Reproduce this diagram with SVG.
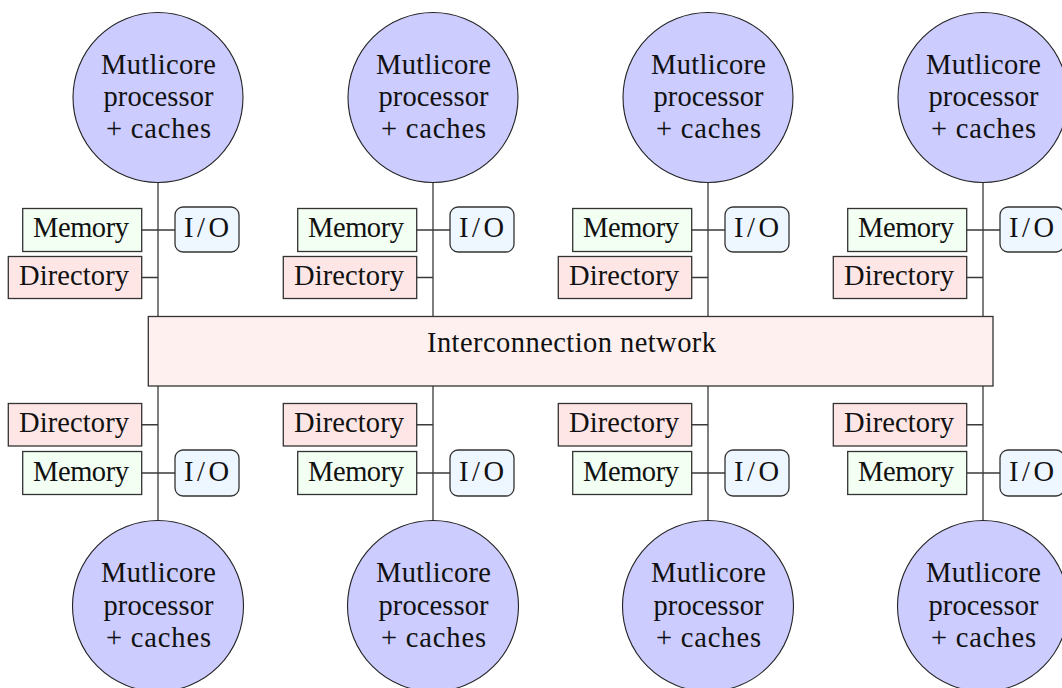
<svg xmlns="http://www.w3.org/2000/svg" width="1062" height="688" viewBox="0 0 1062 688">
<style>
text{font-family:"Liberation Serif","Times New Roman",serif;font-size:28.5px;fill:#111;text-anchor:middle}
.cpu{fill:#ccccff;stroke:#222;stroke-width:1.1}
.mem{fill:#f2fff2;stroke:#333;stroke-width:1.3}
.dir{fill:#ffe6e6;stroke:#333;stroke-width:1.3}
.io{fill:#eef6ff;stroke:#333;stroke-width:1.3}
.net{fill:#fff0f0;stroke:#333;stroke-width:1.3}
.ln{stroke:#3a3a3a;stroke-width:1.3;fill:none}
</style>
<rect width="1062" height="688" fill="#fff"/>
<g id="connectors" class="ln">
<path d="M158,182.5V316.5M141.7,230H175M141.7,277.5H158M158,386V520.5M141.7,424.75H158M141.7,473H175"/>
<path d="M433,182.5V316.5M416.7,230H450M416.7,277.5H433M433,386V520.5M416.7,424.75H433M416.7,473H450"/>
<path d="M708,182.5V316.5M691.7,230H725M691.7,277.5H708M708,386V520.5M691.7,424.75H708M691.7,473H725"/>
<path d="M983,182.5V316.5M966.7,230H1000M966.7,277.5H983M983,386V520.5M966.7,424.75H983M966.7,473H1000"/>
</g>
<g id="network"><rect class="net" x="148.3" y="316.5" width="844.7" height="69.5"/><text x="571.5" y="352" textLength="289">Interconnection network</text></g>

<g id="cpu-t1"><circle class="cpu" cx="158" cy="97.5" r="85"/><text x="158.5" y="74" textLength="115">Mutlicore</text><text x="158.5" y="106" textLength="110">processor</text><text x="158.5" y="138" textLength="105">+ caches</text></g>
<g id="cpu-t2"><circle class="cpu" cx="433" cy="97.5" r="85"/><text x="433.5" y="74" textLength="115">Mutlicore</text><text x="433.5" y="106" textLength="110">processor</text><text x="433.5" y="138" textLength="105">+ caches</text></g>
<g id="cpu-t3"><circle class="cpu" cx="708" cy="97.5" r="85"/><text x="708.5" y="74" textLength="115">Mutlicore</text><text x="708.5" y="106" textLength="110">processor</text><text x="708.5" y="138" textLength="105">+ caches</text></g>
<g id="cpu-t4"><circle class="cpu" cx="983" cy="97.5" r="85"/><text x="983.5" y="74" textLength="115">Mutlicore</text><text x="983.5" y="106" textLength="110">processor</text><text x="983.5" y="138" textLength="105">+ caches</text></g>

<g id="cpu-b1"><circle class="cpu" cx="158" cy="606" r="85.5"/><text x="158.5" y="582" textLength="115">Mutlicore</text><text x="158.5" y="614.5" textLength="110">processor</text><text x="158.5" y="647" textLength="105">+ caches</text></g>
<g id="cpu-b2"><circle class="cpu" cx="433" cy="606" r="85.5"/><text x="433.5" y="582" textLength="115">Mutlicore</text><text x="433.5" y="614.5" textLength="110">processor</text><text x="433.5" y="647" textLength="105">+ caches</text></g>
<g id="cpu-b3"><circle class="cpu" cx="708" cy="606" r="85.5"/><text x="708.5" y="582" textLength="115">Mutlicore</text><text x="708.5" y="614.5" textLength="110">processor</text><text x="708.5" y="647" textLength="105">+ caches</text></g>
<g id="cpu-b4"><circle class="cpu" cx="983" cy="606" r="85.5"/><text x="983.5" y="582" textLength="115">Mutlicore</text><text x="983.5" y="614.5" textLength="110">processor</text><text x="983.5" y="647" textLength="105">+ caches</text></g>

<g id="mem-t1"><rect class="mem" x="22.7" y="208.5" width="119" height="43"/><text x="81" y="237" textLength="96">Memory</text></g>
<g id="mem-t2"><rect class="mem" x="297.7" y="208.5" width="119" height="43"/><text x="356" y="237" textLength="96">Memory</text></g>
<g id="mem-t3"><rect class="mem" x="572.7" y="208.5" width="119" height="43"/><text x="631" y="237" textLength="96">Memory</text></g>
<g id="mem-t4"><rect class="mem" x="847.7" y="208.5" width="119" height="43"/><text x="906" y="237" textLength="96">Memory</text></g>

<g id="dir-t1"><rect class="dir" x="8.3" y="256.5" width="133.4" height="42"/><text x="74" y="285" textLength="110">Directory</text></g>
<g id="dir-t2"><rect class="dir" x="283.3" y="256.5" width="133.4" height="42"/><text x="349" y="285" textLength="110">Directory</text></g>
<g id="dir-t3"><rect class="dir" x="558.3" y="256.5" width="133.4" height="42"/><text x="624" y="285" textLength="110">Directory</text></g>
<g id="dir-t4"><rect class="dir" x="833.3" y="256.5" width="133.4" height="42"/><text x="899" y="285" textLength="110">Directory</text></g>

<g id="io-t1"><rect class="io" x="175" y="207" width="64" height="45" rx="8"/><text x="206.5" y="237" textLength="45">I/O</text></g>
<g id="io-t2"><rect class="io" x="450" y="207" width="64" height="45" rx="8"/><text x="481.5" y="237" textLength="45">I/O</text></g>
<g id="io-t3"><rect class="io" x="725" y="207" width="64" height="45" rx="8"/><text x="756.5" y="237" textLength="45">I/O</text></g>
<g id="io-t4"><rect class="io" x="1000" y="207" width="64" height="45" rx="8"/><text x="1031.5" y="237" textLength="45">I/O</text></g>

<g id="dir-b1"><rect class="dir" x="8.3" y="403.5" width="133.4" height="42.5"/><text x="74" y="432" textLength="110">Directory</text></g>
<g id="dir-b2"><rect class="dir" x="283.3" y="403.5" width="133.4" height="42.5"/><text x="349" y="432" textLength="110">Directory</text></g>
<g id="dir-b3"><rect class="dir" x="558.3" y="403.5" width="133.4" height="42.5"/><text x="624" y="432" textLength="110">Directory</text></g>
<g id="dir-b4"><rect class="dir" x="833.3" y="403.5" width="133.4" height="42.5"/><text x="899" y="432" textLength="110">Directory</text></g>

<g id="mem-b1"><rect class="mem" x="22.7" y="451.5" width="119" height="43"/><text x="81" y="480.5" textLength="96">Memory</text></g>
<g id="mem-b2"><rect class="mem" x="297.7" y="451.5" width="119" height="43"/><text x="356" y="480.5" textLength="96">Memory</text></g>
<g id="mem-b3"><rect class="mem" x="572.7" y="451.5" width="119" height="43"/><text x="631" y="480.5" textLength="96">Memory</text></g>
<g id="mem-b4"><rect class="mem" x="847.7" y="451.5" width="119" height="43"/><text x="906" y="480.5" textLength="96">Memory</text></g>

<g id="io-b1"><rect class="io" x="175" y="450" width="64" height="46" rx="8"/><text x="206.5" y="480.5" textLength="45">I/O</text></g>
<g id="io-b2"><rect class="io" x="450" y="450" width="64" height="46" rx="8"/><text x="481.5" y="480.5" textLength="45">I/O</text></g>
<g id="io-b3"><rect class="io" x="725" y="450" width="64" height="46" rx="8"/><text x="756.5" y="480.5" textLength="45">I/O</text></g>
<g id="io-b4"><rect class="io" x="1000" y="450" width="64" height="46" rx="8"/><text x="1031.5" y="480.5" textLength="45">I/O</text></g>
</svg>
